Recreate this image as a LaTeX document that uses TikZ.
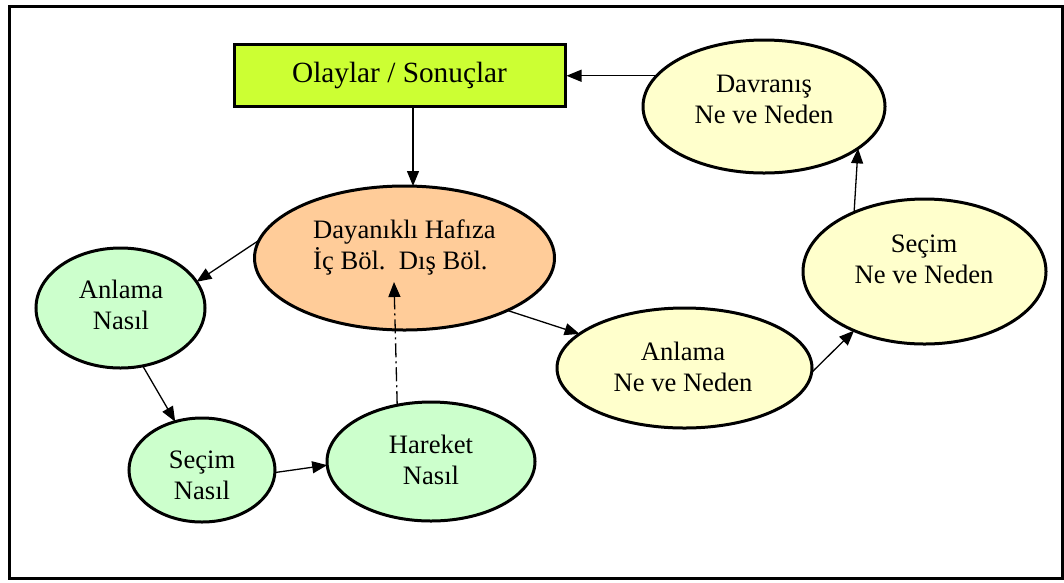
\documentclass[tikz,border=0pt]{standalone}
\usepackage{fontspec}
\setmainfont{Liberation Serif}
\usetikzlibrary{arrows.meta,shapes.geometric}
\definecolor{boxgreen}{HTML}{CCFF33}
\definecolor{memorange}{HTML}{FFCC99}
\definecolor{howgreen}{HTML}{CCFFCC}
\definecolor{whyyellow}{HTML}{FFFFCC}
\frenchspacing
\begin{document}
\begin{tikzpicture}[x=1pt,y=-1pt,
  arr/.style={line width=1.3pt,-{Triangle[length=15pt,width=12pt]}},
  dashdotline/.style={dash pattern=on 14pt off 4pt on 2pt off 4pt},
  ell/.style={ellipse,draw,line width=3pt,inner sep=0pt,outer sep=0pt},
  titlebox/.style={rectangle,draw,line width=3pt,fill=boxgreen,
    minimum width=331pt,minimum height=62pt,inner sep=0pt,
    font=\fontsize{29.3}{34}\selectfont},
  lbl/.style={inner sep=0pt,font=\fontsize{26.6}{31}\selectfont}]
\useasboundingbox (0,0) rectangle (1064,582);
% outer frame
\draw[line width=3pt] (9.5,6.5) rectangle (1062.5,578.5);

% shapes
\node[titlebox] (olay) at (399.5,75) {Olaylar / Sonuçlar};
\node[ell,fill=memorange,minimum width=300pt,minimum height=144pt] (hafiza) at (404.5,258) {};
\node[ell,fill=howgreen,minimum width=169pt,minimum height=120pt] (anlN) at (120.5,308) {};
\node[ell,fill=howgreen,minimum width=146pt,minimum height=104pt] (secN) at (202,470) {};
\node[ell,fill=howgreen,minimum width=208pt,minimum height=119pt] (hareket) at (431,461.5) {};
\node[ell,fill=whyyellow,minimum width=255pt,minimum height=120pt] (anlW) at (684.5,368) {};
\node[ell,fill=whyyellow,minimum width=243pt,minimum height=145pt] (secW) at (924.5,271.5) {};
\node[ell,fill=whyyellow,minimum width=242pt,minimum height=133pt] (davr) at (764,106.5) {};

% texts
\node[lbl,anchor=base west] (hafiza-t) at (313,238.5)
  {\begin{tabular}[t]{@{}l@{}}Dayanıklı Hafıza\\İç Böl.\ \ Dış Böl.\end{tabular}};
\node[lbl,anchor=base] (anlN-t) at (121,298)
  {\begin{tabular}[t]{@{}c@{}}Anlama\\Nasıl\end{tabular}};
\node[lbl,anchor=base] (secN-t) at (202,468)
  {\begin{tabular}[t]{@{}c@{}}Seçim\\Nasıl\end{tabular}};
\node[lbl,anchor=base] (hareket-t) at (431,453)
  {\begin{tabular}[t]{@{}c@{}}Hareket\\Nasıl\end{tabular}};
\node[lbl,anchor=base] (anlW-t) at (683,360)
  {\begin{tabular}[t]{@{}c@{}}Anlama\\Ne ve Neden\end{tabular}};
\node[lbl,anchor=base] (secW-t) at (924,252)
  {\begin{tabular}[t]{@{}c@{}}Seçim\\Ne ve Neden\end{tabular}};
\node[lbl,anchor=base] (davr-t) at (764,92)
  {\begin{tabular}[t]{@{}c@{}}Davranış\\Ne ve Neden\end{tabular}};

% connectors
\draw[arr] ([xshift=13.5pt]olay.south) -- ([xshift=13.5pt]olay.south |- hafiza.north);
\draw[arr] (davr.164) -- (davr.164 -| olay.east);
\draw[arr] (hafiza.173) -- (anlN.19);
\draw[arr] (anlN.291) -- (secN.119);
\draw[arr] (secN.358) -- (hareket.182);
\draw[arr,dashdotline] (hareket.121) -- ([xshift=-10.5pt,yshift=-24pt]hafiza.center);
\draw[arr] (hafiza.333) -- (anlW.162);
\draw[arr] (anlW.358) -- (secW.220);
\draw[arr] (secW.140) -- (davr.336);
\end{tikzpicture}
\end{document}
